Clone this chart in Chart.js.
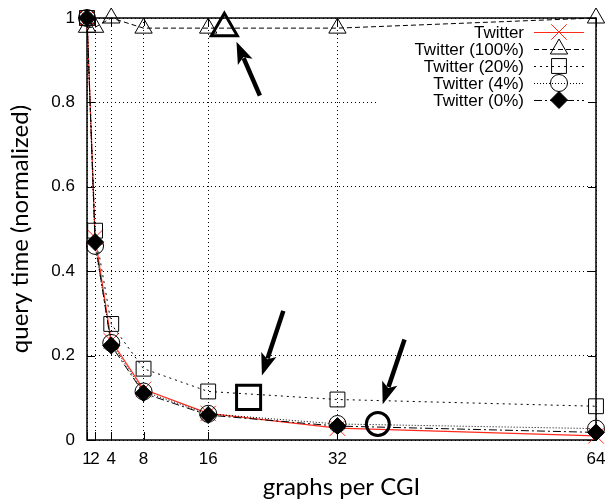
<!DOCTYPE html>
<html>
<head>
<meta charset="utf-8">
<script src="https://cdn.jsdelivr.net/npm/chart.js@4/dist/chart.umd.min.js"></script>
<style>
  html, body { margin: 0; padding: 0; background: #fff; }
  #wrap { width: 614px; height: 504px; position: relative; }
</style>
</head>
<body>
<div id="wrap"><canvas id="queryChart"></canvas></div>
<script>
// graphs per CGI
const graphsPerCgi = [1, 2, 4, 8, 16, 32, 64];
const xTicks = [1, 2, 4, 8, 16, 32, 64];
const yTicks = [0, 0.2, 0.4, 0.6, 0.8, 1];

// normalized query time per series
const twitter = [1.0, 0.48, 0.235, 0.12, 0.063, 0.028, 0.01];
const twitter100 = [0.978, 0.978, 1.0, 0.976, 0.976, 0.976, 1.0];
const twitter20 = [1.0, 0.496, 0.275, 0.169, 0.115, 0.096, 0.08];
const twitter4 = [1.0, 0.46, 0.23, 0.115, 0.062, 0.038, 0.027];
const twitter0 = [1.0, 0.469, 0.224, 0.111, 0.059, 0.033, 0.018];

// highlighted points (big markers) and arrows pointing at them
const highlightX = [18.0, 21.0, 37.0];
const highlightY = [0.976, 0.101, 0.038];
const arrowTailX = [22.4, 25.3, 40.3];
const arrowTailY = [0.816, 0.306, 0.238];
const arrowHeadX = [19.5, 22.65, 37.6];
const arrowHeadY = [0.944, 0.153, 0.085];

const toPoints = (ys) => graphsPerCgi.map((x, i) => ({ x, y: ys[i] }));

const series = [
  { label: "Twitter", data: twitter, color: "#ff2a1a", dash: [], style: "crossRot", radius: 11, width: 1.2, fill: "rgba(0,0,0,0)", order: 5 },
  { label: "Twitter (100%)", data: twitter100, color: "#000", dash: [5, 3], style: "triangle", radius: 10, width: 1, fill: "rgba(0,0,0,0)", order: 4 },
  { label: "Twitter (20%)", data: twitter20, color: "#000", dash: [2, 4], style: "rect", radius: 10.5, width: 1, fill: "rgba(0,0,0,0)", order: 3 },
  { label: "Twitter (4%)", data: twitter4, color: "#000", dash: [1, 2], style: "circle", radius: 8.5, width: 1, fill: "rgba(0,0,0,0)", order: 2 },
  { label: "Twitter (0%)", data: twitter0, color: "#000", dash: [8, 3, 2, 3], style: "rectRot", radius: 8.5, width: 1, fill: "#000", order: 1 },
];

const datasets = series.map((s) => ({
  label: s.label,
  data: toPoints(s.data),
  borderColor: s.color,
  borderWidth: s.width,
  borderDash: s.dash,
  pointStyle: s.style,
  pointRadius: s.radius,
  pointBorderWidth: 1,
  pointBorderColor: s.color,
  pointBackgroundColor: s.fill,
  fill: false,
  tension: 0,
  clip: false,
  order: s.order,
}));

datasets.push({
  label: "highlight",
  data: highlightX.map((x, i) => ({ x, y: highlightY[i] })),
  showLine: false,
  pointStyle: ["triangle", "rect", "circle"],
  pointRadius: [15, 17, 11.5],
  pointBorderWidth: 3,
  pointBorderColor: "#000",
  pointBackgroundColor: "rgba(0,0,0,0)",
  clip: false,
  order: 0,
});

const tickFont = { family: "'Liberation Sans', Arial, sans-serif", size: 17 };
const titleFont = { family: "Lato, 'Open Sans', sans-serif", size: 24 };

const noPadding = (axis) => {
  axis.paddingLeft = 0;
  axis.paddingRight = 0;
  axis.paddingTop = 0;
  axis.paddingBottom = 0;
};

// white box behind the key, frame and inward tick marks
const framePlugin = {
  id: "frame",
  beforeDatasetsDraw(chart) {
    const { ctx, chartArea: a, scales } = chart;
    ctx.save();
    ctx.fillStyle = "#fff";
    ctx.fillRect(376, 30, a.right - 377, 80);
    ctx.strokeStyle = "#000";
    ctx.lineWidth = 1.5;
    ctx.setLineDash([]);
    ctx.strokeRect(a.left, a.top, a.right - a.left, a.bottom - a.top);
    ctx.lineWidth = 1;
    ctx.beginPath();
    xTicks.forEach((v) => {
      const px = Math.round(scales.x.getPixelForValue(v)) + 0.5;
      ctx.moveTo(px, a.bottom);
      ctx.lineTo(px, a.bottom - 8);
      ctx.moveTo(px, a.top);
      ctx.lineTo(px, a.top + 8);
    });
    yTicks.forEach((v) => {
      const py = Math.round(scales.y.getPixelForValue(v)) + 0.5;
      ctx.moveTo(a.left, py);
      ctx.lineTo(a.left + 8, py);
      ctx.moveTo(a.right, py);
      ctx.lineTo(a.right - 8, py);
    });
    ctx.stroke();
    ctx.restore();
  },
  afterDatasetsDraw(chart) {
    const { ctx, scales } = chart;
    ctx.save();
    ctx.strokeStyle = "#000";
    ctx.fillStyle = "#000";
    arrowTailX.forEach((tx, i) => {
      const x0 = scales.x.getPixelForValue(tx);
      const y0 = scales.y.getPixelForValue(arrowTailY[i]);
      const x1 = scales.x.getPixelForValue(arrowHeadX[i]);
      const y1 = scales.y.getPixelForValue(arrowHeadY[i]);
      const ang = Math.atan2(y1 - y0, x1 - x0);
      const headLen = 22;
      const headW = 8;
      const bx = x1 - Math.cos(ang) * headLen;
      const by = y1 - Math.sin(ang) * headLen;
      ctx.lineWidth = 4.5;
      ctx.beginPath();
      ctx.moveTo(x0, y0);
      ctx.lineTo(bx + Math.cos(ang) * 4, by + Math.sin(ang) * 4);
      ctx.stroke();
      ctx.beginPath();
      ctx.moveTo(x1, y1);
      ctx.lineTo(bx + Math.sin(ang) * headW, by - Math.cos(ang) * headW);
      ctx.lineTo(bx + Math.cos(ang) * 5, by + Math.sin(ang) * 5);
      ctx.lineTo(bx - Math.sin(ang) * headW, by + Math.cos(ang) * headW);
      ctx.closePath();
      ctx.fill();
    });
    ctx.restore();
  },
  afterDraw(chart) {
    // key in the top right corner, text right-aligned, sample on the right
    const { ctx } = chart;
    ctx.save();
    ctx.font = "17px 'Liberation Sans', Arial, sans-serif";
    ctx.textAlign = "right";
    ctx.textBaseline = "middle";
    series.forEach((s, i) => {
      const y = 32 + i * 17;
      ctx.fillStyle = "#000";
      ctx.fillText(s.label, 524, y + 1);
      ctx.strokeStyle = s.color;
      ctx.lineWidth = s.width;
      ctx.setLineDash(s.dash);
      ctx.beginPath();
      ctx.moveTo(534, y + 0.5);
      ctx.lineTo(584, y + 0.5);
      ctx.stroke();
      ctx.setLineDash([]);
      ctx.lineWidth = 1;
      ctx.fillStyle = s.fill;
      Chart.helpers.drawPoint(ctx, { pointStyle: s.style, radius: s.radius, borderWidth: 1, rotation: 0 }, 559, y);
    });
    ctx.restore();
  },
};

new Chart(document.getElementById("queryChart"), {
  type: "line",
  data: { datasets },
  options: {
    responsive: true,
    maintainAspectRatio: false,
    animation: false,
    layout: { padding: { top: 15, right: 9, left: 0, bottom: 0 } },
    plugins: { legend: { display: false }, tooltip: { enabled: false } },
    scales: {
      x: {
        type: "linear",
        min: 1,
        max: 64,
        afterBuildTicks: (axis) => {
          axis.ticks = xTicks.map((v) => ({ value: v }));
        },
        afterFit: (axis) => {
          axis.height = 64;
          noPadding(axis);
        },
        ticks: { font: tickFont, color: "#000", padding: 9, maxRotation: 0, autoSkip: false, callback: (v) => String(v) },
        grid: { color: "#000", lineWidth: 1, drawTicks: false },
        border: { display: false, dash: [1, 3] },
        title: { display: true, text: "graphs per CGI", font: titleFont, color: "#000", padding: { top: 0, bottom: 2 } },
      },
      y: {
        type: "linear",
        min: 0,
        max: 1,
        afterBuildTicks: (axis) => {
          axis.ticks = yTicks.map((v) => ({ value: v }));
        },
        afterFit: (axis) => {
          axis.width = 87;
          noPadding(axis);
        },
        ticks: {
          font: tickFont,
          color: "#000",
          padding: 12,
          callback: (v) => (v === 0 ? "0" : v === 1 ? "1" : v.toFixed(1)),
        },
        grid: { color: "#000", lineWidth: 1, drawTicks: false },
        border: { display: false, dash: [1, 3] },
        title: { display: true, text: "query time (normalized)", font: titleFont, color: "#000", padding: { top: 6, bottom: 0 } },
      },
    },
  },
  plugins: [framePlugin],
});
</script>
</body>
</html>
